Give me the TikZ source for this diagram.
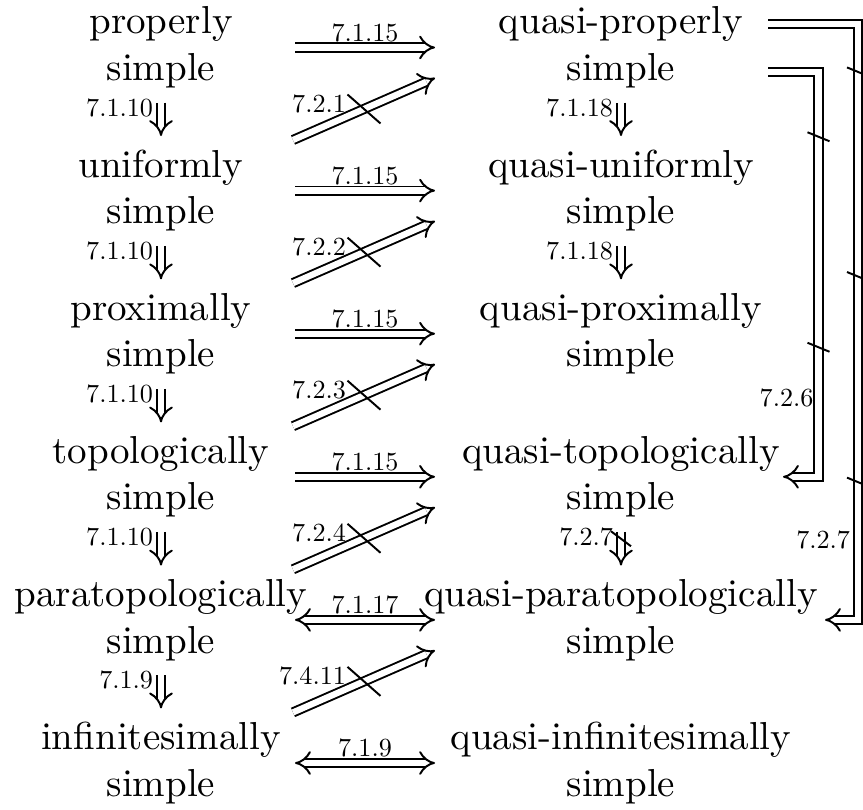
\documentclass[tikz,border=0pt]{standalone}
\usetikzlibrary{arrows.meta,calc}

\tikzset{
  cls/.style={align=center, inner sep=0pt, font=\fontsize{10}{12}\selectfont},
  imp/.style={double, double distance=1.6pt, line width=0.5pt, -{Implies}},
  eqv/.style={double, double distance=1.6pt, line width=0.5pt, {Implies}-{Implies}},
  ref/.style={scale=0.67, inner sep=0.6pt},
  cut/.style={line width=0.5pt},
}

\begin{document}
\begin{tikzpicture}[x=0.2564pt, y=-0.2564pt]
  \useasboundingbox (0,0) rectangle (863,810);
  % Classes: plain on the left, quasi on the right
  \foreach \lt/\rt [count=\i] in {properly/quasi-properly, uniformly/quasi-uniformly,
      proximally/quasi-proximally, topologically/quasi-topologically,
      paratopologically/quasi-paratopologically, infinitesimally/quasi-infinitesimally} {
    \node[cls] (L\i) at (161, {47.5+143.1*(\i-1)}) {\lt\\simple};
    \node[cls] (R\i) at (621, {47.5+143.1*(\i-1)}) {\rt\\simple};
  }
  \coordinate (cl) at (295,0);
  \coordinate (cr) at (435,0);
  % Horizontal implications
  \foreach \i in {1,...,4}
    \draw[imp] (L\i -| cl) -- node[ref, above=1.3pt] {7.1.15} (R\i -| cr);
  \draw[eqv] (L5 -| cl) -- node[ref, above=1.3pt] {7.1.17} (R5 -| cr);
  \draw[eqv] (L6 -| cl) -- node[ref, above=1.3pt] {7.1.9} (R6 -| cr);
  % Diagonal non-implications
  \foreach \lab [count=\k] in {7.2.1, 7.2.2, 7.2.3, 7.2.4, 7.4.11} {
    \pgfmathtruncatemacro\kk{\k+1}
    \draw[imp] ($(L\kk -| cl)+(-2,-50.6)$) -- coordinate (X\k) ($(R\k -| cr)+(0,30.5)$);
    \draw[cut] ($(X\k)+(-16.5,-14.5)$) -- ($(X\k)+(16.5,14.5)$);
    \node[ref, anchor=east] at ($(X\k)+(-16,-5)$) {\lab};
  }
  % Vertical implications, left column
  \foreach \i/\lab in {1/7.1.10, 2/7.1.10, 3/7.1.10, 4/7.1.10, 5/7.1.9} {
    \pgfmathtruncatemacro\j{\i+1}
    \draw[imp, shorten <=3.5pt, shorten >=3.3pt] (L\i) -- node[ref, left=2.2pt, pos=0.31] {\lab} (L\j);
  }
  % Vertical implications, right column
  \foreach \i/\lab in {1/7.1.18, 2/7.1.18} {
    \pgfmathtruncatemacro\j{\i+1}
    \draw[imp, shorten <=3.5pt, shorten >=3.3pt] (R\i) -- node[ref, left=2.2pt, pos=0.31] {\lab} (R\j);
  }
  \draw[imp, shorten <=3.5pt, shorten >=3.3pt] (R4) -- node[ref, left=2.2pt, pos=0.31] {7.2.7}
    coordinate[pos=0.34] (Y) (R5);
  \draw[cut] ($(Y)+(-10,-7.5)$) -- ($(Y)+(10,7.5)$);
  % Long non-implications on the right
  \draw[imp] ($(R1)+(147,24.5)$) -- ++(50.5,0) |- coordinate[pos=0.08] (s1) coordinate[pos=0.34] (s2)
    node[ref, left=1.1pt, pos=0.4025] {7.2.6} ($(R4)+(162,0)$);
  \draw[imp] ($(R1)+(147,-23.5)$) -- ++(90,0) |- coordinate[pos=0.0402] (s3) coordinate[pos=0.2119] (s4)
    coordinate[pos=0.3844] (s5) node[ref, left=2.2pt, pos=0.433] {7.2.7} ($(R5)+(204,0)$);
  \foreach \s in {s1,s2,s3,s4,s5}
    \draw[cut] ($(\s)+(-11,-4.5)$) -- ($(\s)+(11,4.5)$);
\end{tikzpicture}
\end{document}
